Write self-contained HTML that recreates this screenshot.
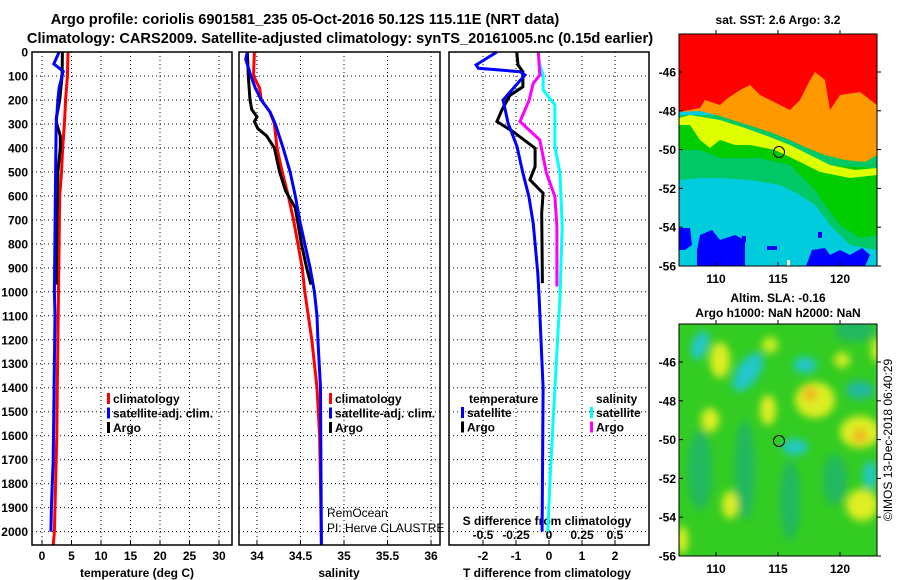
<!DOCTYPE html>
<html><head><meta charset="utf-8"><style>
html,body{margin:0;padding:0;background:#fff;width:900px;height:580px;overflow:hidden}
svg{display:block;font-family:"Liberation Sans",sans-serif;font-weight:bold}
</style></head><body>
<svg id="chart" width="900" height="580" viewBox="0 0 900 580" xmlns="http://www.w3.org/2000/svg">
<defs>
<filter id="blur" x="-20%" y="-20%" width="140%" height="140%"><feGaussianBlur stdDeviation="4"/></filter>
<clipPath id="clip1"><rect x="679" y="34" width="198" height="232"/></clipPath>
<clipPath id="clip2"><rect x="679" y="324" width="198" height="232"/></clipPath>
</defs>
<g font-size="14.6" text-anchor="middle">
<text x="305" y="24">Argo profile: coriolis 6901581_235 05-Oct-2016 50.12S 115.11E (NRT data)</text>
<text x="340" y="43">Climatology: CARS2009. Satellite-adjusted climatology: synTS_20161005.nc (0.15d earlier)</text>
</g>
<g id="panels"></g>

<!-- SST map -->
<g>
<text x="778" y="24" font-size="12" text-anchor="middle">sat. SST: 2.6 Argo: 3.2</text>
<g clip-path="url(#clip1)">
<rect x="679" y="34" width="198" height="232" fill="#00ccdd"/>
<polygon fill="#00c864" points="679,115 877,115 877,250 850,245 830,225 815,205 800,195 780,185 750,180 720,178 700,178 679,180"/>
<polygon fill="#00cc00" points="679,118 720,140 760,140 790,150 820,165 877,168 877,235 860,238 840,225 825,205 815,190 790,165 760,158 720,158 700,150 679,150"/>
<polygon fill="#ddff00" points="679,118 690,115 720,120 745,128 770,137 790,145 810,155 830,165 855,170 877,168 877,175 850,178 820,172 800,162 775,150 750,145 735,145 720,140 710,148 700,140 690,125 679,125"/>
<polygon fill="#ff9900" points="679,34 877,34 877,155 865,162 845,160 825,155 805,147 790,140 770,132 745,124 720,116 700,111 679,112"/>
<polygon fill="#ff0000" points="679,34 877,34 877,105 860,92 840,95 830,110 825,80 815,72 810,80 800,100 790,110 760,95 750,85 740,90 728,98 720,105 705,100 700,108 679,112"/>
<polygon fill="#0000ff" points="697,250 700,235 712,230 720,240 735,235 745,240 745,266 697,266"/>
<polygon fill="#0000ff" points="679,228 690,228 692,245 685,250 679,250"/>
<polygon fill="#0000ff" points="806,266 812,250 825,248 830,255 840,250 850,255 862,248 870,255 865,266"/>
<rect x="767" y="246" width="10" height="4" fill="#0000ff"/>
<rect x="742" y="236" width="4" height="6" fill="#0000ff"/>
<rect x="818" y="232" width="4" height="6" fill="#0000ff"/>
<rect x="787" y="260" width="3" height="6" fill="#ffffff"/>
</g>
<rect x="679" y="34" width="198" height="232" fill="none" stroke="#000" stroke-width="1"/>
<circle cx="779" cy="152" r="5.5" fill="none" stroke="#000" stroke-width="1"/>
</g>

<!-- SLA map -->
<g>
<text x="778" y="302" font-size="12" text-anchor="middle">Altim. SLA: -0.16</text>
<text x="778" y="317" font-size="12" text-anchor="middle">Argo h1000: NaN h2000: NaN</text>
<g clip-path="url(#clip2)">
<rect x="679" y="324" width="198" height="232" fill="#33cc22"/>
<g filter="url(#blur)">
<ellipse cx="700" cy="470" rx="12" ry="40" fill="#22b860"/>
<ellipse cx="745" cy="470" rx="10" ry="50" fill="#22b860"/>
<ellipse cx="790" cy="500" rx="10" ry="40" fill="#22b860"/>
<ellipse cx="835" cy="480" rx="12" ry="25" fill="#22b860"/>
<ellipse cx="855" cy="330" rx="20" ry="12" fill="#22b860"/>
<ellipse cx="700" cy="345" rx="8" ry="15" fill="#22c8c8" transform="rotate(20 700 345)"/>
<ellipse cx="748" cy="372" rx="11" ry="22" fill="#22c8c8" transform="rotate(35 748 372)"/>
<ellipse cx="805" cy="365" rx="12" ry="8" fill="#22c8c8"/>
<ellipse cx="795" cy="447" rx="13" ry="8" fill="#22c8c8"/>
<ellipse cx="860" cy="390" rx="14" ry="9" fill="#22b8a0"/>
<ellipse cx="870" cy="475" rx="7" ry="14" fill="#22c8c8"/>
<ellipse cx="720" cy="360" rx="10" ry="18" fill="#ddee22"/>
<ellipse cx="710" cy="420" rx="9" ry="12" fill="#ddee22"/>
<ellipse cx="768" cy="410" rx="8" ry="15" fill="#ddee22"/>
<ellipse cx="815" cy="400" rx="20" ry="18" fill="#ddee22"/>
<ellipse cx="810" cy="394" rx="7" ry="7" fill="#f0b020"/>
<ellipse cx="860" cy="432" rx="20" ry="16" fill="#ddee22"/>
<ellipse cx="860" cy="436" rx="7" ry="7" fill="#f0b020"/>
<ellipse cx="730" cy="505" rx="8" ry="14" fill="#ddee22"/>
<ellipse cx="862" cy="505" rx="16" ry="16" fill="#ddee22"/>
<ellipse cx="842" cy="360" rx="8" ry="8" fill="#ccee22"/>
<ellipse cx="682" cy="540" rx="6" ry="14" fill="#ddee22"/>
<ellipse cx="877" cy="350" rx="6" ry="12" fill="#ccee22"/>
<ellipse cx="770" cy="345" rx="8" ry="8" fill="#ccee22"/>
</g>
</g>
<rect x="679" y="324" width="198" height="232" fill="none" stroke="#000" stroke-width="1"/>
<circle cx="779" cy="441" r="5.5" fill="none" stroke="#000" stroke-width="1"/>
<text transform="translate(892 440) rotate(-90)" font-size="12" font-weight="normal" text-anchor="middle">©IMOS 13-Dec-2018 06:40:29</text>
</g>
<g id="mapaxes"></g>
</svg>
<script>
// ---- data ----
const depthTicks = [0,100,200,300,400,500,600,700,800,900,1000,1100,1200,1300,1400,1500,1600,1700,1800,1900,2000];
const tempTicks = [0,5,10,15,20,25,30];
const salTicks = [34,34.5,35,35.5,36];
const salTickLabels = ["34","34.5","35","35.5","36"];
const tdiffTicks = [-2,-1,0,1,2];
const sdiffTicks = [-0.5,-0.25,0,0.25,0.5];
const sdiffTickLabels = ["-0.5","-0.25","0","0.25","0.5"];

const tClimDepth = [0,100,200,300,400,500,600,800,1000,1200,1400,1600,1800,2000,2056];
const tClimVal   = [4.4,4.3,4.0,3.8,3.5,3.3,3.0,2.9,2.8,2.7,2.6,2.5,2.3,2.1,1.9];
const tSatDepth  = [0,50,80,150,200,300,500,1000,1100,1500,1700,1900,2000];
const tSatVal    = [2.9,2.0,3.6,2.9,2.7,2.4,2.3,2.1,2.2,2.0,1.9,1.6,1.5];
const tArgoDepth = [0,100,200,280,300,350,400,500,700,970];
const tArgoVal   = [3.45,3.4,3.0,2.4,2.5,3.1,3.1,2.7,2.5,2.4];

const sClimDepth = [0,100,150,200,250,300,400,500,600,700,800,900,1000,1100,1200,1400,1600,1800,2056];
const sClimVal   = [33.97,33.96,34.03,34.05,34.15,34.2,34.23,34.29,34.36,34.42,34.47,34.52,34.55,34.59,34.63,34.69,34.72,34.73,34.74];
const sSatDepth  = [0,30,100,150,200,250,300,400,500,600,700,800,900,1000,1100,1200,1400,2056];
const sSatVal    = [33.89,33.87,33.93,33.98,34.05,34.15,34.21,34.3,34.38,34.44,34.49,34.55,34.61,34.66,34.69,34.7,34.73,34.74];
const sArgoDepth = [0,100,200,240,270,290,320,350,400,500,580,650,800,900,970];
const sArgoVal   = [33.89,33.9,33.92,33.94,34.0,33.97,34.01,34.11,34.2,34.26,34.33,34.44,34.51,34.57,34.62];

const dTSatDepth = [0,54,68,82,96,200,297,394,505,603,714,922,1019,1400,2000];
const dTSatVal   = [-1.58,-2.21,-2.14,-0.88,-0.73,-1.39,-1.24,-0.97,-0.79,-0.61,-0.48,-0.34,-0.30,-0.18,-0.21];
const dTArgoDepth = [0,54,82,145,180,242,290,332,401,478,533,589,672,964];
const dTArgoVal   = [-0.98,-0.94,-0.79,-0.79,-1.18,-1.43,-1.58,-1.09,-0.42,-0.42,-0.58,-0.18,-0.22,-0.2];
const dSArgoDepth = [0,54,96,131,200,290,367,505,603,728,978];
const dSArgoVal   = [-0.08,-0.075,-0.07,-0.12,-0.15,-0.22,-0.07,-0.02,0.045,0.06,0.06];
const dSSatDepth  = [0,54,96,158,221,394,505,728,1019,1400,1800,2000];
const dSSatVal    = [-0.085,-0.07,-0.045,-0.045,0.045,0.045,0.083,0.10,0.083,0.045,0.006,-0.008];

const latTicks = [-46,-48,-50,-52,-54,-56];
const lonTicks = [110,115,120];

// ---- scales ----
const TOP=52, BOT=545, MAXD=(BOT-TOP)/0.2398;
const yD = d => TOP + d*(BOT-TOP)/MAXD;
const xT = t => 42 + t*5.9;
const xS = s => 257 + (s-34)*87;
const xDT = t => 549 + t*33;
const xDS = s => 549 + s*132;
const P = [{l:32,r:232},{l:239,r:440},{l:449,r:649}];

const NS="http://www.w3.org/2000/svg";
const root=document.getElementById('panels');
function mk(tag, attrs, parent){
  const e=document.createElementNS(NS,tag);
  for(const k in attrs) e.setAttribute(k,attrs[k]);
  (parent||root).appendChild(e); return e;
}
function txt(x,y,s,anchor,size,parent){
  const t=mk('text',{x:x,y:y,'text-anchor':anchor||'middle','font-size':size||12},parent);
  t.textContent=s; return t;
}
const grid=mk('g',{});


P.forEach((p,i)=>{
  depthTicks.forEach(d=>{
    const g=mk('line',{x1:p.l,x2:p.r,y1:yD(d),y2:yD(d),stroke:'#000','stroke-width':1,'stroke-dasharray':'1,3'},grid);
    
    
  });
});
const vgrid=[[tempTicks,xT,0],[salTicks,xS,1],[tdiffTicks,xDT,2]];
vgrid.forEach(([ticks,f,i])=>{
  ticks.forEach(v=>{
    const g=mk('line',{x1:f(v),x2:f(v),y1:TOP,y2:BOT,stroke:'#000','stroke-width':1,'stroke-dasharray':'1,3'},grid);
    
    
  });
});
const yax=mk('g',{});


depthTicks.forEach(d=>{
  const t=txt(28,yD(d)+4.5,String(d),'end',12,yax);
  
  
});
function xaxis(ticks,labels,f,y,name){
  const g=mk('g',{});
  
  
  ticks.forEach((v,i)=>{
    mk('line',{x1:f(v),x2:f(v),y1:BOT,y2:BOT-4,stroke:'#000'},g);
    const t=txt(f(v),y,labels[i],'middle',12,g);
    
    
  });
}
xaxis(tempTicks,tempTicks.map(String),xT,560,'temperature-axis');
xaxis(salTicks,salTickLabels,xS,560,'salinity-axis');
xaxis(tdiffTicks,tdiffTicks.map(String),xDT,560,'t-diff-axis');
const sda=mk('g',{});


sdiffTicks.forEach((v,i)=>{
  const t=txt(xDS(v),539,sdiffTickLabels[i],'middle',12,sda);
  
  
});
const st=txt(547,525,'S difference from climatology','middle',12,sda);


[['temperature (deg C)',137,'temperature-axis-title'],['salinity',339,'salinity-axis-title'],['T difference from climatology',547,'t-diff-axis-title']].forEach(([s,x,n])=>{
  const t=txt(x,577,s,'middle',12);
  
  
});
function series(ds,vs,f,color,name){
  const pts=ds.map((d,i)=>f(vs[i]).toFixed(1)+','+yD(d).toFixed(1)).join(' ');
  const l=mk('polyline',{points:pts,fill:'none',stroke:color,'stroke-width':3,'stroke-linejoin':'miter'});
  
  
}
series(tClimDepth,tClimVal,xT,'#ff0000','temp-climatology-line');
series(tArgoDepth,tArgoVal,xT,'#000000','temp-argo-line');
series(tSatDepth,tSatVal,xT,'#0000ff','temp-satellite-line');
series(sClimDepth,sClimVal,xS,'#ff0000','sal-climatology-line');
series(sArgoDepth,sArgoVal,xS,'#000000','sal-argo-line');
series(sSatDepth,sSatVal,xS,'#0000ff','sal-satellite-line');
series(dSSatDepth,dSSatVal,xDS,'#00ffff','sdiff-satellite-line');
series(dSArgoDepth,dSArgoVal,xDS,'#ff00ff','sdiff-argo-line');
series(dTArgoDepth,dTArgoVal,xDT,'#000000','tdiff-argo-line');
series(dTSatDepth,dTSatVal,xDT,'#0000ff','tdiff-satellite-line');
P.forEach((p,i)=>{
  const f=mk('rect',{x:p.l,y:TOP,width:p.r-p.l,height:BOT-TOP,fill:'none',stroke:'#000','stroke-width':1.5});
  
  
});
function legend(x,y,items,name){
  const g=mk('g',{});
  
  
  items.forEach((it,i)=>{
    const yy=y+i*14.5;
    if(it[1]) mk('rect',{x:x,y:yy-10,width:3,height:11,fill:it[1]},g);
    const t=txt(x+(it[1]?6:0),yy,it[0],'start',12,g);
    
    
  });
}
legend(107,403,[['climatology','#ff0000'],['satellite-adj. clim.','#0000ff'],['Argo','#000000']],'temp-legend');
legend(329,403,[['climatology','#ff0000'],['satellite-adj. clim.','#0000ff'],['Argo','#000000']],'sal-legend');
legend(469,403,[['temperature',null]],'tdiff-legend-title');
legend(461,417,[['satellite','#0000ff'],['Argo','#000000']],'tdiff-legend');
legend(596,403,[['salinity',null]],'sdiff-legend-title');
legend(590,417,[['satellite','#00ffff'],['Argo','#ff00ff']],'sdiff-legend');
const r1=txt(327,517,'RemOcean','start',12);
r1.setAttribute('font-weight','normal');


const r2=txt(327,532,'PI: Herve CLAUSTRE','start',12);
r2.setAttribute('font-weight','normal');


const ma=document.getElementById('mapaxes');
const maps=[{top:34,bot:266,lat0:72},{top:324,bot:556,lat0:362}];
maps.forEach((m,mi)=>{
  const g=mk('g',{},ma);
  
  
  latTicks.forEach(v=>{
    const y=m.lat0+(-46-v)*19.4;
    mk('line',{x1:877,x2:881,y1:y,y2:y,stroke:'#000'},g);
    mk('line',{x1:679,x2:683,y1:y,y2:y,stroke:'#000'},g);
    const t=txt(676,y+4.5,String(v),'end',12,g);
    
    
  });
  lonTicks.forEach(v=>{
    const x=716+(v-110)*12.4;
    mk('line',{x1:x,x2:x,y1:m.top,y2:m.top-4,stroke:'#000'},g);
    mk('line',{x1:x,x2:x,y1:m.bot,y2:m.bot-4,stroke:'#000'},g);
    const t=txt(x,m.bot+17,String(v),'middle',12,g);
    
    
  });
});
</script>
</body></html>
